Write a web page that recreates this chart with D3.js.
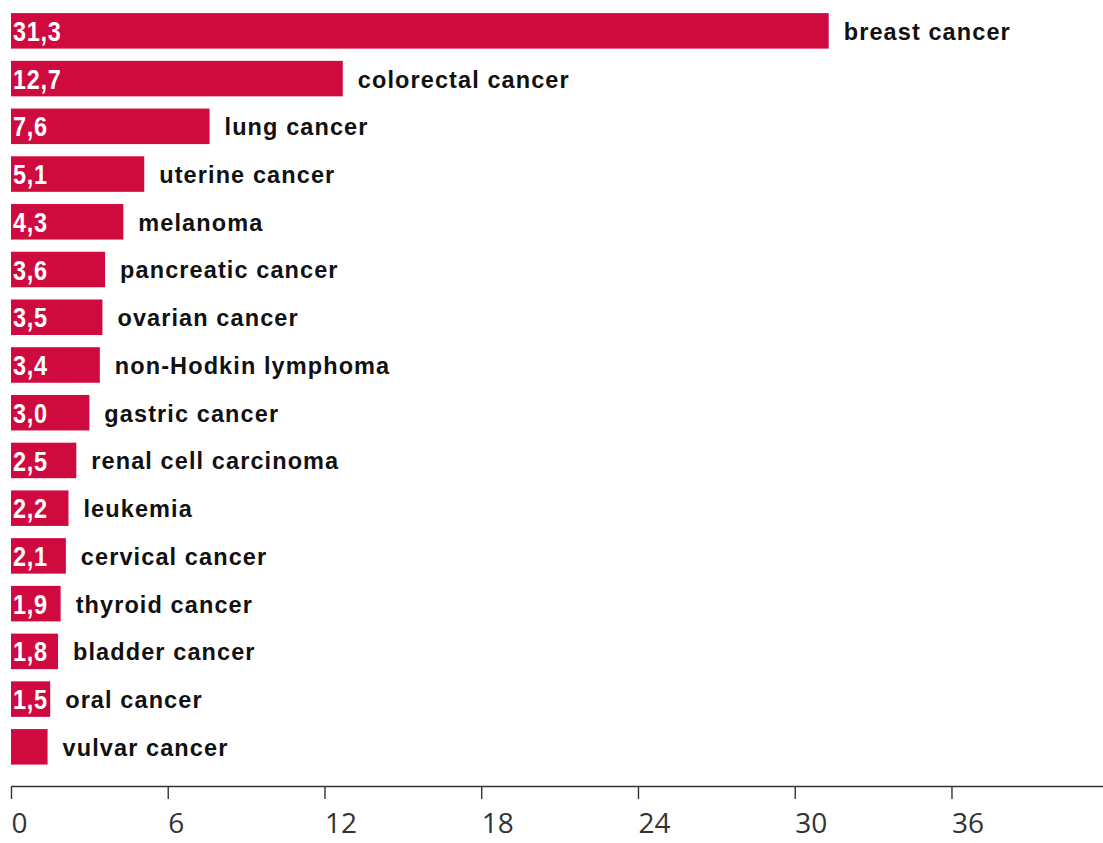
<!DOCTYPE html>
<html>
<head>
<meta charset="utf-8">
<script src="https://cdn.jsdelivr.net/npm/d3@7"></script>
<style>
  html, body { margin: 0; padding: 0; background: #fff; }
  svg { display: block; }
</style>
</head>
<body>
<svg id="chart" width="1103" height="843"></svg>
<script>
// Cancer types, in display order (top to bottom)
const categories = [
  "breast cancer", "colorectal cancer", "lung cancer", "uterine cancer",
  "melanoma", "pancreatic cancer", "ovarian cancer", "non-Hodkin lymphoma",
  "gastric cancer", "renal cell carcinoma", "leukemia", "cervical cancer",
  "thyroid cancer", "bladder cancer", "oral cancer", "vulvar cancer"
];
// Share of cases, percent
const values = [31.3, 12.7, 7.6, 5.1, 4.3, 3.6, 3.5, 3.4, 3.0, 2.5, 2.2, 2.1, 1.9, 1.8, 1.5, 1.4];
// Whether the value is printed inside the bar
const showValue = [true, true, true, true, true, true, true, true, true, true, true, true, true, true, true, false];
// Axis ticks
const tickValues = [0, 6, 12, 18, 24, 30, 36];

const svg = d3.select("#chart");
const fmt = v => d3.format(".1f")(v).replace(".", ",");

const x = d3.scaleLinear().domain([0, 41.8]).range([11, 1103]);
const y = d3.scaleBand()
  .domain(categories)
  .range([7, 770.7])
  .paddingInner(0.256)
  .paddingOuter(0.128);

const rows = categories.map((c, i) => ({ name: c, value: values[i], show: showValue[i] }));

const g = svg.append("g");

g.selectAll("rect.bar")
  .data(rows)
  .join("rect")
  .attr("class", "bar")
  .attr("x", x(0))
  .attr("y", d => y(d.name))
  .attr("width", d => x(d.value) - x(0))
  .attr("height", y.bandwidth())
  .attr("fill", "#cf0a3e");

// Values inside the bars, in a condensed bold face
g.selectAll("text.val")
  .data(rows.filter(d => d.show))
  .join("text")
  .attr("class", "val")
  .attr("transform", d => `translate(${x(0) + 2},${y(d.name) + y.bandwidth() / 2}) scale(0.84,1)`)
  .attr("dy", "0.36em")
  .attr("fill", "#fff")
  .attr("font-family", "'Liberation Sans Narrow', 'Arial Narrow', 'Liberation Sans', sans-serif")
  .attr("font-weight", "bold")
  .attr("font-size", 28)
  .attr("letter-spacing", 0.8)
  .text(d => fmt(d.value));

g.selectAll("text.cat")
  .data(rows)
  .join("text")
  .attr("class", "cat")
  .attr("x", d => x(d.value) + 15)
  .attr("y", d => y(d.name) + y.bandwidth() / 2)
  .attr("dy", "0.38em")
  .attr("fill", "#111")
  .attr("font-family", "'Liberation Sans', Arial, sans-serif")
  .attr("font-weight", "bold")
  .attr("font-size", 23.5)
  .attr("letter-spacing", 1.1)
  .text(d => d.name);

// Bottom axis
const axis = d3.axisBottom(x)
  .tickValues(tickValues)
  .tickSize(13)
  .tickSizeOuter(0)
  .tickFormat(d3.format("d"));

const ax = svg.append("g")
  .attr("transform", "translate(0,786)")
  .call(axis);

ax.select(".domain").attr("stroke", "#333").attr("stroke-width", 1.6);
ax.selectAll(".tick line").attr("stroke", "#333").attr("stroke-width", 1.4);
ax.selectAll(".tick text")
  .attr("fill", "#333")
  .attr("font-family", "'Open Sans', 'DejaVu Sans', sans-serif")
  .attr("font-size", 28)
  .attr("text-anchor", "start")
  .attr("x", 0)
  .attr("y", 47)
  .attr("dy", 0);
</script>
</body>
</html>
